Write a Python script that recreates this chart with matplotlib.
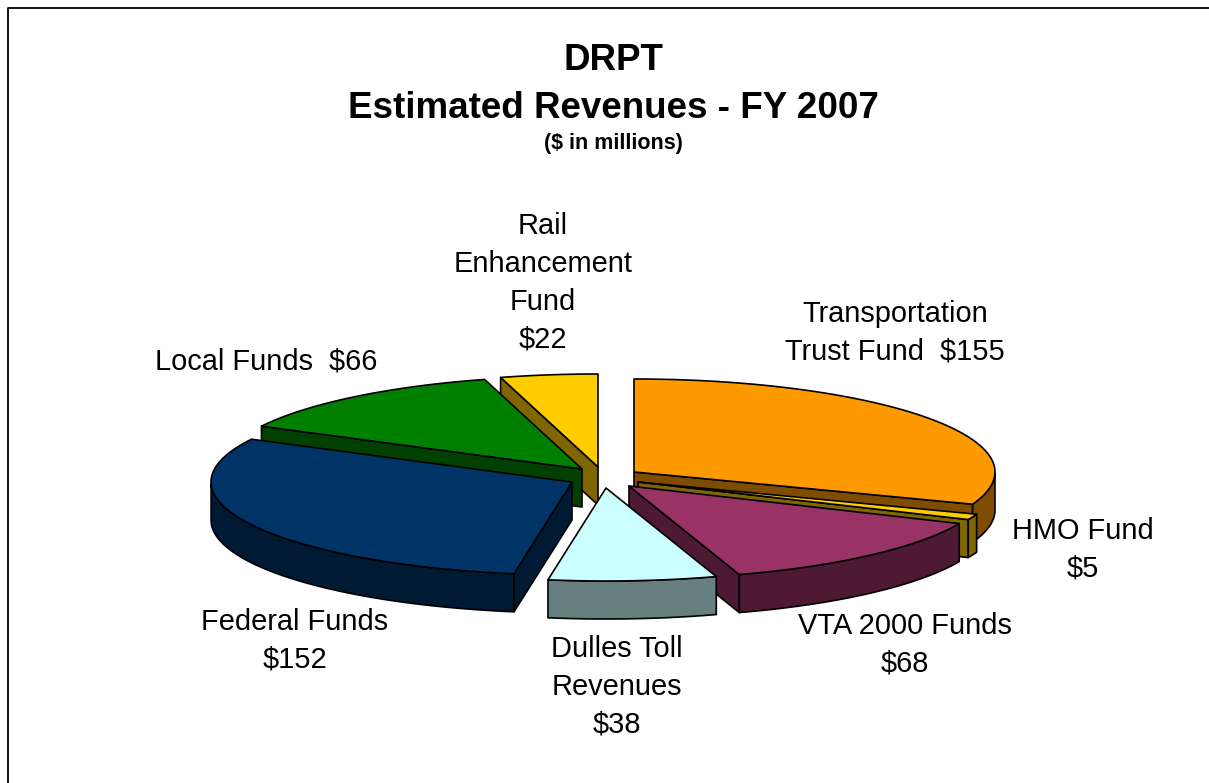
import numpy as np
import matplotlib
matplotlib.use("Agg")
import matplotlib.pyplot as plt
from matplotlib.patches import Polygon

plt.rcParams['font.family'] = ['Liberation Sans', 'DejaVu Sans']

# Data, clockwise from 12 o'clock
categories = ["Transportation\nTrust Fund  $155", "HMO Fund\n$5", "VTA 2000 Funds\n$68",
              "Dulles Toll\nRevenues\n$38", "Federal Funds\n$152", "Local Funds  $66",
              "Rail\nEnhancement\nFund\n$22"]
values = [155, 5, 68, 38, 152, 66, 22]

top_colors = ["#FF9900", "#FFCC00", "#993366", "#CCFFFF", "#003366", "#008000", "#FFCC00"]
side_colors = ["#804D00", "#806600", "#4D1933", "#668080", "#001A33", "#004000", "#806600"]

# how far each slice is pulled out of the pie (pixels)
explode_x = [22, 26, 17, -6, -40, -30, -14]
explode_y = [-4, 6, 10, 12, 6, -7, -9]
label_x = [895, 1083, 905, 617, 295, 266, 543]
label_y = [333, 550, 645, 687, 641, 362, 283]
draw_order = [6, 5, 0, 1, 2, 4, 3]

center_x, center_y = 612, 476
rx, ry, depth = 361, 93, 38

fig = plt.figure(figsize=(12.09, 7.83), dpi=100)
ax = fig.add_axes([0, 0, 1, 1])
ax.set_xlim(0, 1209)
ax.set_ylim(783, 0)
ax.axis("off")

# Frame, only top and left show in the picture
ax.plot([8, 8, 1209], [783, 8, 8], color="black", lw=1.3)

edges = np.cumsum([0] + values) / sum(values) * 2 * np.pi


def add_face(xs, ys, color, z):
    ax.add_patch(Polygon(np.column_stack([xs, ys]), closed=True, facecolor=color,
                         edgecolor="black", lw=1.2, joinstyle="round", zorder=z))


for n, i in enumerate(draw_order):
    a = np.linspace(edges[i], edges[i + 1], 80)
    ox = center_x + explode_x[i]
    oy = center_y + explode_y[i]
    arc_x = ox + rx * np.sin(a)
    arc_y = oy - ry * np.cos(a)

    # cut faces, only the ones turned to the viewer
    faces = []
    if np.sin(a[0]) < -1e-6:
        faces.append(0)
    if np.sin(a[-1]) > 1e-6:
        faces.append(-1)
    for k in faces:
        add_face([ox, arc_x[k], arc_x[k], ox],
                 [oy, arc_y[k], arc_y[k] + depth, oy + depth], side_colors[i], n * 3 + 1)
    # rim, only the front half of the pie shows it
    front = np.cos(a) <= 0
    if front.any():
        fx, fy = arc_x[front], arc_y[front]
        add_face(np.r_[fx, fx[::-1]], np.r_[fy, fy[::-1] + depth], side_colors[i], n * 3 + 2)
    # top
    add_face(np.r_[ox, arc_x], np.r_[oy, arc_y], top_colors[i], n * 3 + 3)

# Titles
ax.text(613, 60, "DRPT", ha="center", va="center", fontsize=26.5, fontweight="bold")
ax.text(613, 108, "Estimated Revenues - FY 2007", ha="center", va="center", fontsize=26.5, fontweight="bold")
ax.text(613, 144, "($ in millions)", ha="center", va="center", fontsize=15.5, fontweight="bold")

for lab, x, y in zip(categories, label_x, label_y):
    ax.text(x, y, lab, ha="center", va="center", fontsize=20.9, linespacing=1.44)

plt.savefig("out.png", dpi=100)
